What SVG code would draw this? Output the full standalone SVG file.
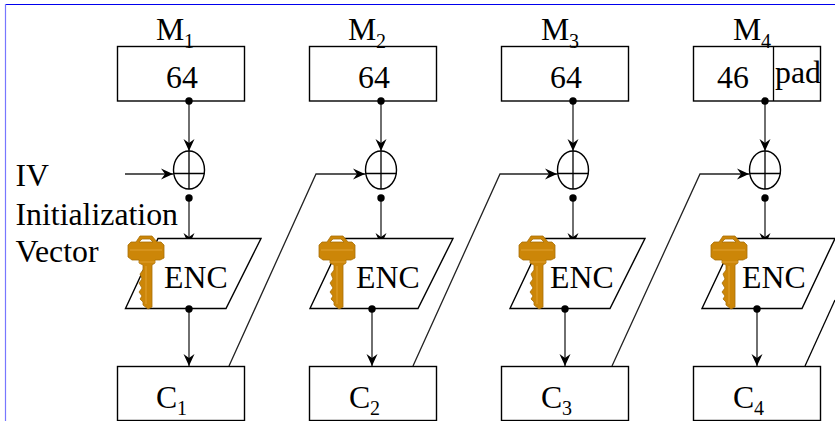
<svg xmlns="http://www.w3.org/2000/svg" width="835" height="421" viewBox="0 0 835 421">
<style>
text{font-family:"Liberation Serif","Times New Roman",serif;font-size:31.8px;fill:#000}
.s{font-size:20px}
.b{fill:#fff;stroke:#000;stroke-width:1.4}
.l{fill:none;stroke:#000;stroke-width:1.3}
.a{fill:none;stroke:#222;stroke-width:1.3;marker-end:url(#ah)}
.d{fill:#000}
</style>
<defs>
<marker id="ah" markerUnits="userSpaceOnUse" markerWidth="14" markerHeight="12" refX="12" refY="6" orient="auto">
<path d="M0 0.500L12 6L0 11.500L4 6Z" fill="#000"/>
</marker>
<g id="key">
<path d="M13 0H25L30 6H34L37 9V22L33 24H28V27L25 29V71L21 73L16 69V66L13 63L15 60L12 56L15 52L12 47L15 43L13 38L16 34V29L12 27V24H5L1 21V9L4 6H9Z" fill="#cc8608" stroke="#a86e08" stroke-width=".8"/>
<path d="M15 3H23L26 6H12Z" fill="#fff" stroke="#a86e08" stroke-width=".8"/>
<path d="M3 14H35M19 30V68M12 26H28" fill="none" stroke="#e0a030" stroke-width="1"/>
</g>
</defs>
<rect width="835" height="421" fill="#fff"/>
<path d="M5 4.500H835" fill="none" stroke="#0000ee" stroke-width="1.200"/>
<path d="M5.500 4V421" fill="none" stroke="#7777ff" stroke-width="1.200"/>

<g id="connectors">
<path class="a" d="M189 101V151"/>
<path class="a" d="M381 101V151"/>
<path class="a" d="M573 101V151"/>
<path class="a" d="M765 101V151"/>
<path class="a" d="M125 174H173"/>
<path class="a" d="M189 198V245"/>
<path class="a" d="M381 198V245"/>
<path class="a" d="M573 198V245"/>
<path class="a" d="M765 198V245"/>
<path class="a" d="M189 309V366"/>
<path class="a" d="M372 309V366"/>
<path class="a" d="M565 309V366"/>
<path class="a" d="M757 309V366"/>
<path class="a" d="M229 366L316 174H365"/>
<path class="a" d="M413 366L500 174H557"/>
<path class="a" d="M612 366L700 174H749"/>
<path class="l" d="M805 366L835 300"/>
</g>

<g id="iv-label">
<text x="15.500" y="186">IV</text>
<text x="15.500" y="225">Initialization</text>
<text x="15.500" y="262">Vector</text>
</g>

<g id="m1"><rect class="b" x="117.500" y="46.500" width="127" height="54.500"/><text x="166" y="88">64</text><text x="156" y="40">M</text><text class="s" x="184" y="47.500">1</text><circle class="d" cx="189" cy="101" r="3.700"/></g>
<g id="m2"><rect class="b" x="309.500" y="46.500" width="127" height="54.500"/><text x="358" y="88">64</text><text x="348" y="40">M</text><text class="s" x="376" y="47.500">2</text><circle class="d" cx="381" cy="101" r="3.700"/></g>
<g id="m3"><rect class="b" x="501.500" y="46.500" width="127" height="54.500"/><text x="550" y="88">64</text><text x="541" y="40">M</text><text class="s" x="569" y="47.500">3</text><circle class="d" cx="573" cy="101" r="3.700"/></g>
<g id="m4"><rect class="b" x="693.500" y="46.500" width="127" height="54.500"/><path class="l" d="M773.500 46.500V101"/><text x="717" y="88">46</text><text x="775" y="83">pad</text><text x="733" y="40">M</text><text class="s" x="761" y="47.500">4</text><circle class="d" cx="765" cy="101" r="3.700"/></g>

<g id="xor1"><ellipse class="b" cx="189" cy="170" rx="15.500" ry="19"/><path class="l" d="M189 151V189M173.500 173.500H204.500"/><circle class="d" cx="189" cy="198" r="3.700"/></g>
<g id="xor2"><ellipse class="b" cx="381" cy="170" rx="15.500" ry="19"/><path class="l" d="M381 151V189M365.500 173.500H396.500"/><circle class="d" cx="381" cy="198" r="3.700"/></g>
<g id="xor3"><ellipse class="b" cx="573" cy="170" rx="15.500" ry="19"/><path class="l" d="M573 151V189M557.500 173.500H588.500"/><circle class="d" cx="573" cy="198" r="3.700"/></g>
<g id="xor4"><ellipse class="b" cx="765" cy="170" rx="15.500" ry="19"/><path class="l" d="M765 151V189M749.500 173.500H780.500"/><circle class="d" cx="765" cy="198" r="3.700"/></g>

<g id="enc1"><path class="b" d="M158 238.500H261L226 308.500H125.500Z"/><use href="#key" x="127" y="236"/><text x="164" y="288">ENC</text><circle class="d" cx="189" cy="309" r="3.700"/></g>
<g id="enc2"><path class="b" d="M343 238.500H453L418 308.500H310Z"/><use href="#key" x="318" y="236"/><text x="356" y="288">ENC</text><circle class="d" cx="372" cy="309" r="3.700"/></g>
<g id="enc3"><path class="b" d="M543 238.500H645L610 308.500H510Z"/><use href="#key" x="518" y="236"/><text x="550" y="288">ENC</text><circle class="d" cx="565" cy="309" r="3.700"/></g>
<g id="enc4"><path class="b" d="M735 238.500H835L802 308.500H702Z"/><use href="#key" x="710" y="236"/><text x="742" y="288">ENC</text><circle class="d" cx="757" cy="309" r="3.700"/></g>

<g id="c1"><rect class="b" x="117.500" y="366.500" width="127" height="54"/><text x="156" y="408">C</text><text class="s" x="177" y="415">1</text></g>
<g id="c2"><rect class="b" x="309.500" y="366.500" width="127" height="54"/><text x="349" y="408">C</text><text class="s" x="370" y="415">2</text></g>
<g id="c3"><rect class="b" x="501.500" y="366.500" width="127" height="54"/><text x="541" y="408">C</text><text class="s" x="562" y="415">3</text></g>
<g id="c4"><rect class="b" x="693.500" y="366.500" width="127" height="54"/><text x="733" y="408">C</text><text class="s" x="754" y="415">4</text></g>
</svg>
